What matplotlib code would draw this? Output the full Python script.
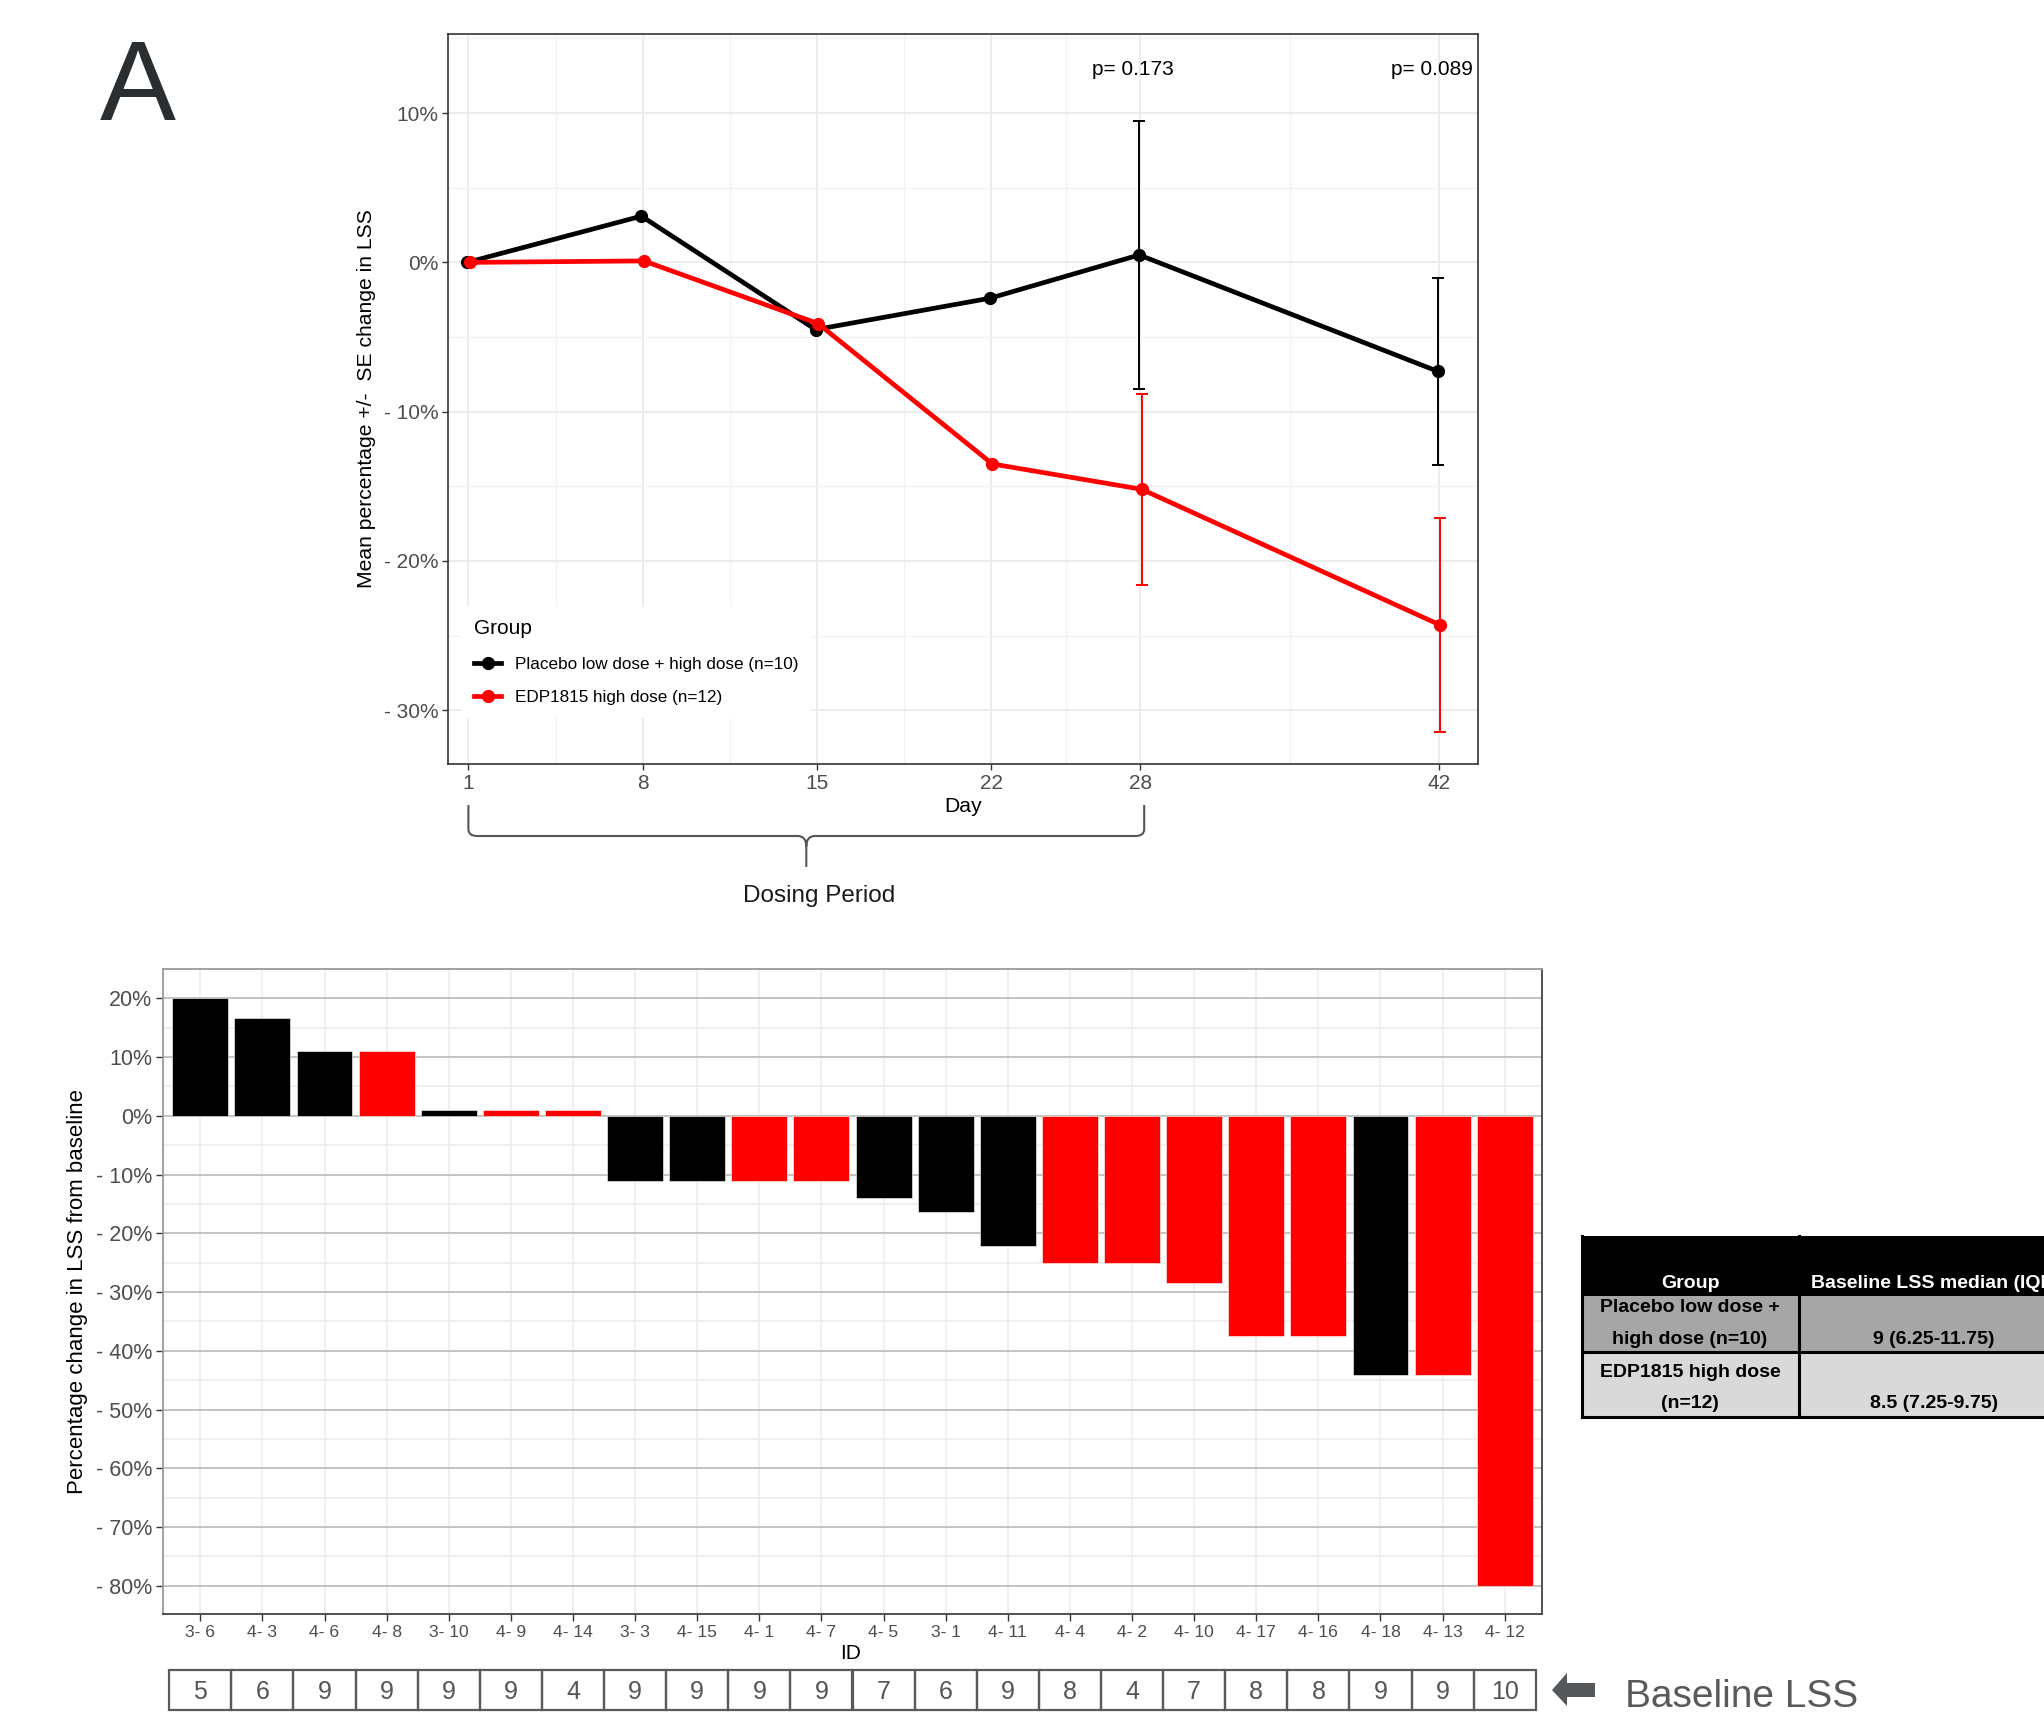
import matplotlib
matplotlib.use("Agg")
import matplotlib.pyplot as plt
import matplotlib.transforms as mtransforms
from matplotlib.patches import Rectangle, Polygon, PathPatch
from matplotlib.path import Path
from matplotlib.lines import Line2D
from matplotlib.ticker import FuncFormatter, FixedLocator, MultipleLocator

plt.rcParams['font.family'] = ['Liberation Sans', 'DejaVu Sans']

# --- panel A, top: mean % change by visit ---
day_x = [1, 8, 15, 22, 28, 40]          # where each visit sits on the x axis
day_labels = ['1', '8', '15', '22', '28', '42']
placebo_mean = [0.0, 3.1, -4.5, -2.4, 0.5, -7.3]
edp_mean = [0.0, 0.1, -4.1, -13.5, -15.2, -24.3]
se_visits = [4, 5]                      # visits that carry error bars
placebo_se = [9.0, 6.25]
edp_se = [6.4, 7.15]
p_labels = ['p= 0.173', 'p= 0.089']
group_names = ['Placebo low dose + high dose (n=10)', 'EDP1815 high dose (n=12)']

# --- bottom: per-patient waterfall ---
patient_ids = ['3-6', '4-3', '4-6', '4-8', '3-10', '4-9', '4-14', '3-3', '4-15', '4-1', '4-7',
               '4-5', '3-1', '4-11', '4-4', '4-2', '4-10', '4-17', '4-16', '4-18', '4-13', '4-12']
pct_change = [20.0, 16.7, 11.1, 11.1, 1.0, 1.0, 1.0, -11.1, -11.1, -11.1, -11.1,
              -14.0, -16.4, -22.1, -25.0, -25.0, -28.4, -37.5, -37.5, -44.1, -44.1, -80.0]
patient_group = ['P', 'P', 'P', 'E', 'P', 'E', 'E', 'P', 'P', 'E', 'E',
                 'P', 'P', 'P', 'E', 'E', 'E', 'E', 'E', 'P', 'E', 'E']
baseline_lss = [5, 6, 9, 9, 9, 9, 4, 9, 9, 9, 9, 7, 6, 9, 8, 4, 7, 8, 8, 9, 9, 10]

# --- side table ---
table_header = ['Group', 'Baseline LSS median (IQR)']
table_groups = [['Placebo low dose +', 'high dose (n=10)'], ['EDP1815 high dose', '(n=12)']]
table_medians = ['9 (6.25-11.75)', '8.5 (7.25-9.75)']

BLACK = '#000000'
RED = '#FF0000'
group_color = {'P': BLACK, 'E': RED}
W, H = 2044, 1719


def fx(x):
    return x / W


def fy(y):
    return 1 - y / H


def pct(v, pos=None):
    if v < 0:
        return f"- {abs(v):.0f}%"
    return f"{v:.0f}%"


fig = plt.figure(figsize=(W / 100, H / 100), dpi=100)
fig.patch.set_facecolor('white')

# ================= top panel =================
ax1 = fig.add_axes([fx(448), fy(764), fx(1478) - fx(448), fy(34) - fy(764)])
dodge = 0.05
px = [d - dodge for d in day_x]
ex = [d + dodge for d in day_x]
ax1.plot(px, placebo_mean, color=BLACK, lw=3.4, marker='o', ms=8.5, zorder=3)
ax1.errorbar([px[i] for i in se_visits], [placebo_mean[i] for i in se_visits], yerr=placebo_se,
             fmt='none', ecolor=BLACK, elinewidth=1.4, capsize=4, capthick=1.4, zorder=3)
ax1.plot(ex, edp_mean, color=RED, lw=3.4, marker='o', ms=8.5, zorder=4)
ax1.errorbar([ex[i] for i in se_visits], [edp_mean[i] for i in se_visits], yerr=edp_se,
             fmt='none', ecolor=RED, elinewidth=1.4, capsize=4, capthick=1.4, zorder=4)

ax1.set_xlim(0.18, 41.56)
ax1.set_ylim(-33.6, 15.3)
ax1.set_xticks(day_x)
ax1.set_xticklabels(day_labels)
mids = [(a + b) / 2 for a, b in zip(day_x[:-1], day_x[1:])]
ax1.xaxis.set_minor_locator(FixedLocator(mids))
ax1.yaxis.set_major_locator(MultipleLocator(10))
ax1.yaxis.set_minor_locator(MultipleLocator(5))
ax1.yaxis.set_major_formatter(FuncFormatter(pct))
ax1.grid(which='major', color='#EBEBEB', lw=1.3, zorder=0)
ax1.grid(which='minor', color='#F2F2F2', lw=1.0, zorder=0)
ax1.set_axisbelow(True)
ax1.tick_params(which='major', length=4, width=1, color='#333333', labelcolor='#4D4D4D',
                labelsize=15, pad=3)
ax1.tick_params(which='minor', length=0)
for s in ax1.spines.values():
    s.set_color('#333333')
    s.set_linewidth(1.2)

for k, i in enumerate(se_visits):
    ax1.text(day_x[i] - 0.3, 12.9, p_labels[k], ha='center', va='center', fontsize=15,
             color='black')

handles = [Line2D([], [], color=BLACK, lw=3.4, marker='o', ms=8.5),
           Line2D([], [], color=RED, lw=3.4, marker='o', ms=8.5)]
leg = ax1.legend(handles, group_names, title='Group', loc='upper left',
                 bbox_to_anchor=(0.0136, 0.2145), fontsize=12.3, title_fontsize=15,
                 frameon=True, fancybox=False, edgecolor='white', framealpha=1,
                 handlelength=1.6, handletextpad=0.8, labelspacing=1.08, borderpad=0.7,
                 borderaxespad=0)
leg._legend_box.align = 'left'
leg.set_zorder(5)

fig.text(fx(366), fy(399), 'Mean percentage +/-  SE change in LSS', rotation=90,
         ha='center', va='center', fontsize=15.2)
fig.text(fx(963), fy(807), 'Day', ha='center', va='center', fontsize=15.2)

# dosing period brace (x in days, y in figure coords)
bt = mtransforms.blended_transform_factory(ax1.transData, fig.transFigure)
x0, x1 = day_x[0], day_x[4] + 0.15
xm = (x0 + x1) / 2
y_top, y_bar, y_tip = fy(805), fy(836), fy(867)
c = 0.35
verts = [(x0, y_top), (x0, y_bar + 0.004), (x0, y_bar), (x0 + c, y_bar),
         (xm - c, y_bar), (xm, y_bar), (xm, y_bar - 0.006), (xm, y_tip),
         (xm, y_bar - 0.006), (xm, y_bar), (xm + c, y_bar),
         (x1 - c, y_bar), (x1, y_bar), (x1, y_bar + 0.004), (x1, y_top)]
codes = [Path.MOVETO, Path.LINETO, Path.CURVE3, Path.CURVE3,
         Path.LINETO, Path.CURVE3, Path.CURVE3, Path.LINETO,
         Path.MOVETO, Path.CURVE3, Path.CURVE3,
         Path.LINETO, Path.CURVE3, Path.CURVE3, Path.LINETO]
brace = PathPatch(Path(verts, codes), transform=bt, fill=False, edgecolor='#555555', lw=1.5,
                  clip_on=False)
fig.add_artist(brace)
fig.text(fx(819), fy(896), 'Dosing Period', ha='center', va='center', fontsize=17.5,
         color='#1A1A1A')

fig.text(fx(100), fy(120), 'A', ha='left', va='baseline', fontsize=82, color='#2B2E30')

# ================= bottom panel =================
ax2 = fig.add_axes([fx(163), fy(1614), fx(1542) - fx(163), fy(969) - fy(1614)])
n = len(patient_ids)
pos = list(range(n))
ax2.bar(pos, pct_change, width=0.9, color=[group_color[g] for g in patient_group],
        edgecolor='white', linewidth=0.4, zorder=3)
ax2.set_xlim(-0.6, n - 1 + 0.6)
ax2.set_ylim(-84.8, 25)
ax2.set_xticks(pos)
ax2.set_xticklabels([p.replace('-', '- ') for p in patient_ids])
ax2.yaxis.set_major_locator(MultipleLocator(10))
ax2.yaxis.set_minor_locator(MultipleLocator(5))
ax2.yaxis.set_major_formatter(FuncFormatter(pct))
ax2.grid(axis='y', which='major', color='#BEBEBE', lw=1.3, zorder=0)
ax2.grid(axis='y', which='minor', color='#EBEBEB', lw=1.1, zorder=0)
ax2.grid(axis='x', which='major', color='#EBEBEB', lw=1.1, zorder=0)
ax2.set_axisbelow(True)
ax2.tick_params(axis='y', which='major', length=5, width=1, color='#333333',
                labelcolor='#4D4D4D', labelsize=15.5, pad=3)
ax2.tick_params(axis='x', which='major', length=5, width=1, color='#333333',
                labelcolor='#4D4D4D', labelsize=12.6, pad=3)
ax2.tick_params(which='minor', length=0)
for side in ['left', 'top']:
    ax2.spines[side].set_color('#9A9A9A')
for side in ['right', 'bottom']:
    ax2.spines[side].set_color('#444444')
for s in ax2.spines.values():
    s.set_linewidth(1.3)

fig.text(fx(78), fy(1291), 'Percentage change in LSS from baseline', rotation=90,
         ha='center', va='center', fontsize=16)
fig.text(fx(851), fy(1653), 'ID', ha='center', va='center', fontsize=15)

# baseline LSS boxes under each bar
ax3 = fig.add_axes([fx(163), fy(1710), fx(1542) - fx(163), fy(1670) - fy(1710)])
ax3.set_xlim(ax2.get_xlim())
ax3.set_ylim(0, 1)
ax3.axis('off')
for i, v in zip(pos, baseline_lss):
    ax3.add_patch(Rectangle((i - 0.5, 0), 1, 1, fill=False, edgecolor='#5A5A5A', lw=1.6,
                            clip_on=False))
    ax3.text(i, 0.45, str(v), ha='center', va='center', fontsize=18, color='#555555')

arrow = [(1552, 1690), (1567, 1673), (1567, 1683), (1595, 1683), (1595, 1697),
         (1567, 1697), (1567, 1706)]
fig.add_artist(Polygon([(fx(a), fy(b)) for a, b in arrow], closed=True,
                       transform=fig.transFigure, facecolor='#54585A', edgecolor='none'))
fig.text(fx(1625), fy(1697), 'Baseline LSS', ha='left', va='center', fontsize=28,
         color='#595959')

# ================= side table =================
tl, tm, tr = 1582, 1799, 2100
rows_y = [1236, 1296, 1352, 1417]
fills = ['#000000', '#A6A6A6', '#D9D9D9']
for k in range(3):
    fig.add_artist(Rectangle((fx(tl), fy(rows_y[k + 1])), fx(tr) - fx(tl),
                             fy(rows_y[k]) - fy(rows_y[k + 1]), transform=fig.transFigure,
                             facecolor=fills[k], edgecolor='none'))
for y in rows_y[2:]:
    fig.add_artist(Line2D([fx(tl), fx(tr)], [fy(y), fy(y)], transform=fig.transFigure,
                          color='black', lw=2.2))
fig.add_artist(Line2D([fx(tl), fx(tl)], [fy(rows_y[0]), fy(rows_y[-1])],
                      transform=fig.transFigure, color='black', lw=2.2))
fig.add_artist(Line2D([fx(tm), fx(tm)], [fy(rows_y[0]), fy(rows_y[-1])],
                      transform=fig.transFigure, color='black', lw=2.2))

tfont = dict(fontsize=14, fontweight='bold')
fig.text(fx(1690), fy(1283), table_header[0], ha='center', va='center', color='white', **tfont)
fig.text(fx(1811), fy(1283), table_header[1], ha='left', va='center', color='white', **tfont)
row_lines = [(1308, 1339), (1372, 1404)]
for (ya, yb), g, m in zip(row_lines, table_groups, table_medians):
    fig.text(fx(1690), fy(ya), g[0], ha='center', va='center', color='black', **tfont)
    fig.text(fx(1690), fy(yb), g[1], ha='center', va='center', color='black', **tfont)
    fig.text(fx(1934), fy(yb), m, ha='center', va='center', color='black', **tfont)

fig.savefig('out.png', dpi=100, facecolor='white')
